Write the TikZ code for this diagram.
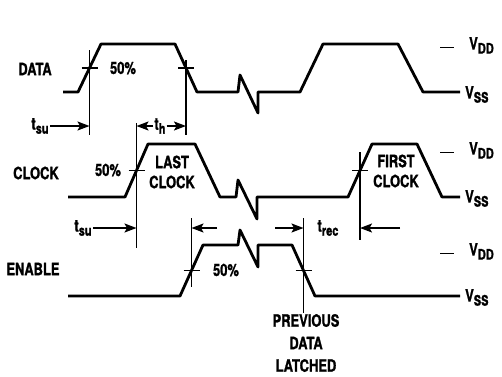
\documentclass[tikz,border=0pt]{standalone}
\usepackage{fontspec}
\setmainfont{TeX Gyre Heros}[FakeStretch=0.76,BoldFeatures={FakeBold=1.2}]
\usetikzlibrary{arrows.meta,calc,positioning}
\newcommand\lblfont{\fontsize{17}{20}\selectfont\bfseries}
\newcommand\sbs[1]{\raisebox{-4pt}{\fontsize{14.5}{14}\selectfont #1}}
\tikzset{sig/.style={line width=2.8pt},dimln/.style={line width=1.3pt},
  tickln/.style={line width=1.6pt},lvl/.style={line width=0.9pt},
  dimarr/.style={line width=1.5pt,->},
  lbl/.style={inner sep=1pt},capt/.style={align=center,inner sep=1pt}}

\begin{document}
\begin{tikzpicture}[x=1pt,y=-1pt,>={Stealth[length=12pt,width=9pt,inset=2.5pt]},line join=round,font=\lblfont]
\useasboundingbox (0,0) rectangle (502,376);
% --- DATA
\draw[sig] (63,92) -- (78,92) coordinate (dA) -- (101,44) coordinate (dB) -- (175,44) coordinate (dC) -- (197,92) coordinate (dD) -- (238,92) -- (240,75) -- (258,113) -- (258,92) -- (300,92) -- (323,44) -- (398,44) -- (423,92) -- (460,92);
\coordinate (d1) at ($(dA)!.5!(dB)$); \coordinate (d2) at ($(dC)!.5!(dD)$);
\node[lbl] (lbData) at (35,69) {DATA};
\node[lbl] (pcData) at (123,68) {50\%};
% --- CLOCK
\draw[sig] (68,197) -- (125,197) coordinate (cA) -- (148,144) coordinate (cB) -- (195,144) -- (220,197) -- (236,197) -- (238,180) -- (257,219) -- (257,197) -- (348,197) coordinate (cC) -- (372,144) coordinate (cD) -- (417,144) -- (442,197) -- (460,197);
\coordinate (c1) at ($(cA)!.5!(cB)$); \coordinate (c2) at ($(cC)!.5!(cD)$);
\node[lbl] (lbClock) at (36,173) {CLOCK};
\node[lbl] (pcClock) at (108,170) {50\%};
\node[capt] (lastClk) at (172,172) {LAST\\CLOCK};
\node[capt] (firstClk) at (396,171) {FIRST\\CLOCK};
% --- ENABLE
\draw[sig] (68,296) -- (180,296) coordinate (eA) -- (203,245) coordinate (eB) -- (238,245) -- (240,230) -- (258,267) -- (258,245) -- (292,245) coordinate (eC) -- (315,296) coordinate (eD) -- (460,296);
\coordinate (e1) at ($(eA)!.5!(eB)$); \coordinate (e2) at ($(eC)!.5!(eD)$);
\node[lbl] (lbEnable) at (33,269) {ENABLE};
\node[lbl] (pcEnable) at (226,270) {50\%};
\node[capt,font=\fontsize{17}{22.5}\selectfont\bfseries] (prevLatch) at (306,343) {PREVIOUS\\DATA\\LATCHED};
% --- 50% lines and ticks
\draw[dimln] (d1 |- 0,50) -- (d1 |- 0,135); \draw[dimln] (d2 |- 0,60) -- (d2 |- 0,135);
\draw[dimln] (c1 |- 0,123) -- (c1 |- 0,248); \draw[dimln] (c2 |- 0,152) -- (c2 |- 0,240);
\draw[dimln] (e1 |- 0,218) -- (e1 |- 0,287); \draw[dimln] (e2 |- 0,218) -- (e2 |- prevLatch.north);
\foreach \p in {d1,d2,c1,c2,e1,e2} {\draw[tickln] ($(\p)+(-8,0)$) -- ($(\p)+(8,0)$);}
% --- timing arrows
\node[lbl] (tsuA) at (40,126) {t\sbs{su}};
\draw[dimarr] (tsuA.east) -- (d1 |- tsuA.east);
\node[lbl] (th) at (160,126) {t\sbs{h}};
\draw[dimarr] (th.west) -- (c1 |- th.west); \draw[dimarr] (th.east) -- (d2 |- th.east);
\node[lbl] (tsuB) at (83,228) {t\sbs{su}};
\draw[dimarr] (tsuB.east) -- (c1 |- tsuB.east);
\coordinate (tsuBr) at (217,228); \draw[dimarr] (tsuBr) -- (e1 |- tsuBr);
\node[lbl] (trec) at (328,228) {t\sbs{rec}};
\coordinate (trecL) at (275,228); \draw[dimarr] (trecL) -- (e2 |- trecL);
\coordinate (trecR) at (400,228); \draw[dimarr] (trecR) -- (c2 |- trecR);
% --- supply levels
\foreach \n/\y in {1/47,2/152,3/253} {
  \node[lbl,anchor=mid west] (vdd\n) at (468,\y) {V\sbs{DD}};
  \draw[lvl] ([xshift=-28pt]vdd\n.mid west) -- ([xshift=-14pt]vdd\n.mid west);}
\foreach \n/\y in {1/96,2/200,3/299}
  \node[lbl,anchor=mid west] (vss\n) at (464,\y) {V\sbs{SS}};
\end{tikzpicture}
\end{document}
